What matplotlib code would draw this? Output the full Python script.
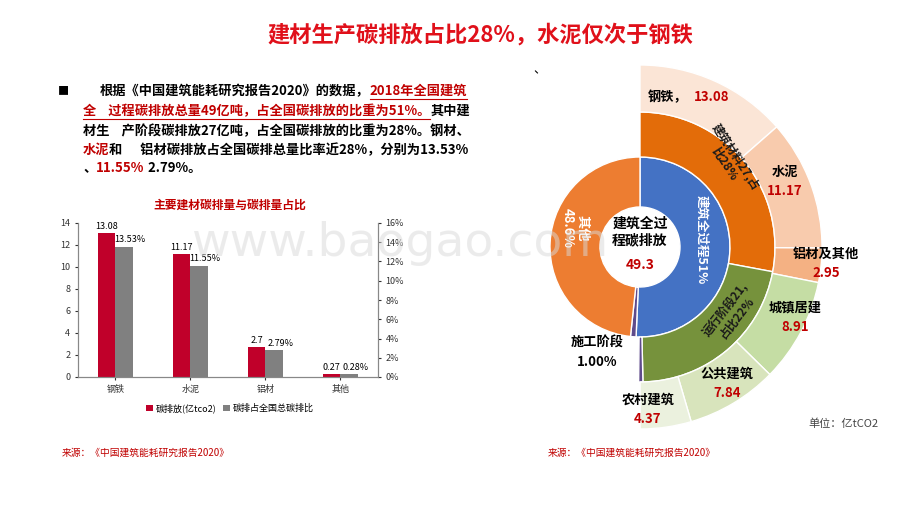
import matplotlib
matplotlib.use("Agg")
import matplotlib.pyplot as plt
import numpy as np

plt.rcParams['font.family'] = ['Noto Sans CJK SC']

# ---- data ----
bar_cats = ["钢铁", "水泥", "铝材", "其他"]
bar_emis = [13.08, 11.17, 2.7, 0.27]
bar_share = [13.53, 11.55, 2.79, 0.28]

inner_labels = ["建筑全过程", "施工阶段", "其他"]
inner_vals = [51.0, 1.0, 48.6]          # % of national emissions
mid_labels = ["建筑材料", "运行阶段", "施工阶段"]
mid_vals = [27.0, 21.0, 0.49]           # 亿tCO2
outer_labels = ["钢铁", "水泥", "铝材及其他", "城镇居建", "公共建筑", "农村建筑"]
outer_vals = [13.08, 11.17, 2.95, 8.91, 7.84, 4.37]
total = 49.3
building_share = 0.51

W, H = 920, 518
fig = plt.figure(figsize=(9.2, 5.18), dpi=100)
def P(x, y):
    return x / W, 1 - y / H

RED = "#C00000"
fig.text(*P(480, 35), "建材生产碳排放占比28%，水泥仅次于钢铁", color="#E0101A",
         fontsize=16, fontweight="bold", ha="center", va="center")
fig.text(*P(540, 70), "、", fontsize=9, ha="center", va="center")

fig.canvas.draw()
renderer = fig.canvas.get_renderer()
def rich(x, y, segs, fs=9.5):
    cx = x
    for s, col, ul in segs:
        t = fig.text(*P(cx, y), s, color=col, fontsize=fs, fontweight="bold", va="center", ha="left")
        bb = t.get_window_extent(renderer)
        if ul:
            yy = y + 8
            fig.add_artist(plt.Line2D([cx / W, (cx + bb.width) / W], [1 - yy / H] * 2, color=col, lw=0.8))
        cx += bb.width
fig.text(*P(58, 91), "■", fontsize=8, va="center")
rich(100, 91, [("根据《中国建筑能耗研究报告2020》的数据，", "black", False), ("2018年全国建筑", RED, True)])
rich(83, 111, [("全    过程碳排放总量49亿吨，占全国碳排放的比重为51%。", RED, True), ("其中建", "black", False)])
rich(83, 131, [("材生    产阶段碳排放27亿吨，占全国碳排放的比重为28%。钢材、", "black", False)])
rich(83, 150, [("水泥", RED, False), ("和      铝材碳排放占全国碳排总量比率近28%，分别为13.53%", "black", False)])
rich(83, 168, [("、", "black", False), ("11.55%", RED, False), (" 2.79%。", "black", False)])

fig.text(*P(400, 243), "www.baogao.com", fontsize=34, color="#D9D9D9", alpha=0.5,
         ha="center", va="center", family="DejaVu Sans", zorder=0)

# ---- bar chart ----
fig.text(*P(230, 205), "主要建材碳排量与碳排量占比", color=RED, fontsize=8.5, fontweight="bold", ha="center", va="center")
ax = fig.add_axes([78 / W, 1 - 377 / H, 300 / W, 154 / H])
ax2 = ax.twinx()
x = np.arange(len(bar_cats))
bw = 0.23
b1 = ax.bar(x - bw / 2, bar_emis, bw, color="#C0002A", label="碳排放(亿tco2)")
b2 = ax2.bar(x + bw / 2, bar_share, bw, color="#808080", label="碳排占全国总碳排比")
ax.set_ylim(0, 14); ax.set_yticks(range(0, 15, 2))
ax2.set_ylim(0, 16); ax2.set_yticks(range(0, 17, 2))
ax2.set_yticklabels([f"{v}%" for v in range(0, 17, 2)])
for a in (ax, ax2):
    a.tick_params(labelsize=6.5, colors="#333333", length=2)
    a.spines["top"].set_visible(False)
    for s in ("left", "right", "bottom"):
        a.spines[s].set_color("#888888")
ax.set_xticks(x); ax.set_xticklabels(bar_cats, fontsize=6.5)
ax.set_xlim(-0.5, 3.5)
for xi, v in zip(x, bar_emis):
    ax.text(xi - bw / 2, v + 0.2, f"{v:g}", ha="center", va="bottom", fontsize=6.5)
for xi, v in zip(x, bar_share):
    ax2.text(xi + bw / 2 + 0.08, v + 0.25, f"{v:.2f}%", ha="center", va="bottom", fontsize=6.5)
fig.legend(handles=[b1, b2], loc="center", bbox_to_anchor=P(230, 408), ncol=2, frameon=False,
           fontsize=6.5, handlelength=0.7, handleheight=0.7, columnspacing=0.8, handletextpad=0.3)

fig.text(*P(62, 453), "来源：《中国建筑能耗研究报告2020》", color=RED, fontsize=7, va="center")
fig.text(*P(548, 453), "来源：《中国建筑能耗研究报告2020》", color=RED, fontsize=7, va="center")
fig.text(*P(808, 424), "单位：亿tCO2", color="#444444", fontsize=8, va="center")

# ---- sunburst ----
cx, cy, R = 640, 247, 182
sa = fig.add_axes([(cx - R) / W, 1 - (cy + R) / H, 2 * R / W, 2 * R / H])
r_in, r1, r2, r3 = 40 / R, 90 / R, 135 / R, 1.0
ec = "white"
national = total / building_share
sa.pie(inner_vals, radius=r1, startangle=90, counterclock=False,
       colors=["#4472C4", "#5F4B8B", "#ED7D31"], wedgeprops=dict(width=r1 - r_in, edgecolor=ec, linewidth=1))
sa.pie(mid_vals + [national - sum(mid_vals)], radius=r2, startangle=90, counterclock=False,
       colors=["#E36C09", "#76923C", "#5F4B8B", "none"], wedgeprops=dict(width=r2 - r1, edgecolor=ec, linewidth=1))
sa.pie(outer_vals + [national - sum(outer_vals)], radius=r3, startangle=90, counterclock=False,
       colors=["#FBE5D6", "#F8CBAD", "#F4B183", "#C5DDA4", "#D8E4BC", "#EBF1DE", "none"],
       wedgeprops=dict(width=r3 - r2, edgecolor=ec, linewidth=1))
for w in sa.patches:
    if w.get_facecolor()[3] == 0:
        w.set_edgecolor("none")
sa.set_xlim(-1, 1); sa.set_ylim(-1, 1); sa.axis("off")

def sx(px, py):
    return (px - cx) / R, (cy - py) / R
sa.text(*sx(640, 232), "建筑全过\n程碳排放", ha="center", va="center", fontsize=10, fontweight="bold", linespacing=1.2)
sa.text(*sx(640, 265), f"{total}", ha="center", va="center", fontsize=10, fontweight="bold", color=RED)
sa.text(*sx(701, 240), "建筑全过程51%", rotation=-90, ha="center", va="center", fontsize=9, fontweight="bold", color="white")
sa.text(*sx(575, 228), "其他\n48.6%", rotation=-90, ha="center", va="center", fontsize=9.5, fontweight="bold", color="white", linespacing=1.1)
sa.text(*sx(730, 160), "建筑材料27,占\n比28%", rotation=-57, ha="center", va="center", fontsize=8.5, fontweight="bold", color="#1a1a1a", linespacing=1.0)
sa.text(*sx(731, 314), "运行阶段21,\n占比22%", rotation=52, ha="center", va="center", fontsize=8.5, fontweight="bold", color="#1a1a1a", linespacing=1.0)

def lab(px, py, name, val, sep=False):
    if sep:
        sa.text(*sx(px - 22, py), name, ha="center", va="center", fontsize=9.5, fontweight="bold")
        sa.text(*sx(px + 22, py), val, ha="center", va="center", fontsize=9.5, fontweight="bold", color=RED)
    else:
        sa.text(*sx(px, py - 9), name, ha="center", va="center", fontsize=9.5, fontweight="bold")
        sa.text(*sx(px, py + 10), val, ha="center", va="center", fontsize=9.5, fontweight="bold", color=RED)
lab(690, 97, "钢铁，", "13.08", sep=True)
lab(785, 181, "水泥", "11.17")
lab(826, 263, "铝材及其他", "2.95")
lab(795, 317, "城镇居建", "8.91")
lab(727, 383, "公共建筑", "7.84")
lab(648, 409, "农村建筑", "4.37")
for t in sa.texts:
    t.set_clip_on(False)
fig.text(*P(597, 343), "施工阶段", ha="center", va="center", fontsize=9.5, fontweight="bold")
fig.text(*P(597, 362), "1.00%", ha="center", va="center", fontsize=9.5, fontweight="bold")

fig.savefig("out.png", dpi=100)
